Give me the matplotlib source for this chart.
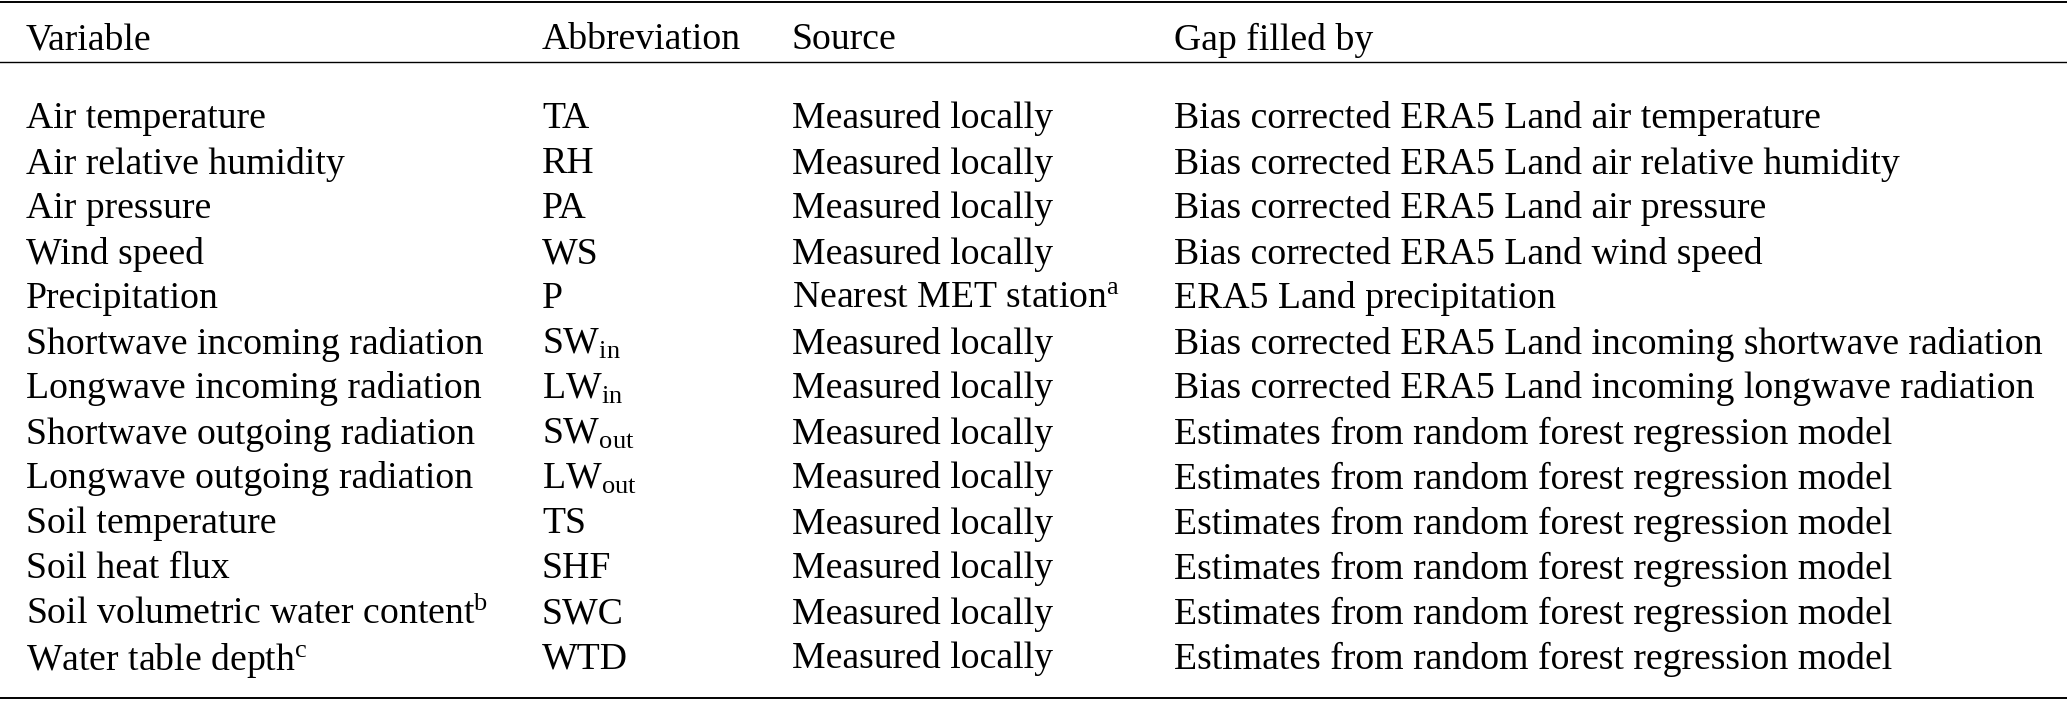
import matplotlib
matplotlib.use('Agg')
import matplotlib.pyplot as plt

plt.rcParams['font.family'] = ['Liberation Serif', 'DejaVu Serif']
plt.rcParams['mathtext.fontset'] = 'custom'
plt.rcParams['mathtext.rm'] = 'Liberation Serif'
plt.rcParams['mathtext.it'] = 'Liberation Serif:italic'

headers = ['Variable', 'Abbreviation', 'Source', 'Gap filled by']

variables = ['Air temperature', 'Air relative humidity', 'Air pressure', 'Wind speed',
             'Precipitation', 'Shortwave incoming radiation', 'Longwave incoming radiation',
             'Shortwave outgoing radiation', 'Longwave outgoing radiation', 'Soil temperature',
             'Soil heat flux', 'Soil volumetric water content$^{\\rm b}$',
             'Water table depth$^{\\rm c}$']
abbrevs = ['TA', 'RH', 'PA', 'WS', 'P', 'SW$_{\\rm in}$', 'LW$_{\\rm in}$',
           'SW$_{\\rm out}$', 'LW$_{\\rm out}$', 'TS', 'SHF', 'SWC', 'WTD']
sources = ['Measured locally'] * 4 + ['Nearest MET station$^{\\rm a}$'] + ['Measured locally'] * 8
rf = 'Estimates from random forest regression model'
gap_filled = ['Bias corrected ERA5 Land air temperature',
              'Bias corrected ERA5 Land air relative humidity',
              'Bias corrected ERA5 Land air pressure',
              'Bias corrected ERA5 Land wind speed',
              'ERA5 Land precipitation',
              'Bias corrected ERA5 Land incoming shortwave radiation',
              'Bias corrected ERA5 Land incoming longwave radiation',
              rf, rf, rf, rf, rf, rf]

W, H = 2067, 704
fig = plt.figure(figsize=(W / 100, H / 100), dpi=100)
ax = fig.add_axes([0, 0, 1, 1])
ax.set_xlim(0, W)
ax.set_ylim(H, 0)
ax.axis('off')

col_x = [26, 542, 792, 1174]
fs = 27.2
header_y = 36
row0, row_step = 115, 45.0

for x, h in zip(col_x, headers):
    ax.text(x, header_y, h, fontsize=fs, va='center_baseline', ha='left')

columns = [variables, abbrevs, sources, gap_filled]
for x, col in zip(col_x, columns):
    for i, s in enumerate(col):
        ax.text(x, row0 + i * row_step, s, fontsize=fs, va='center_baseline', ha='left')

ax.plot([0, W], [1.5, 1.5], color='black', lw=1.4)
ax.plot([0, W], [62, 62], color='black', lw=1.0)
ax.plot([0, W], [698, 698], color='black', lw=1.4)

fig.savefig('out.png', dpi=100)
